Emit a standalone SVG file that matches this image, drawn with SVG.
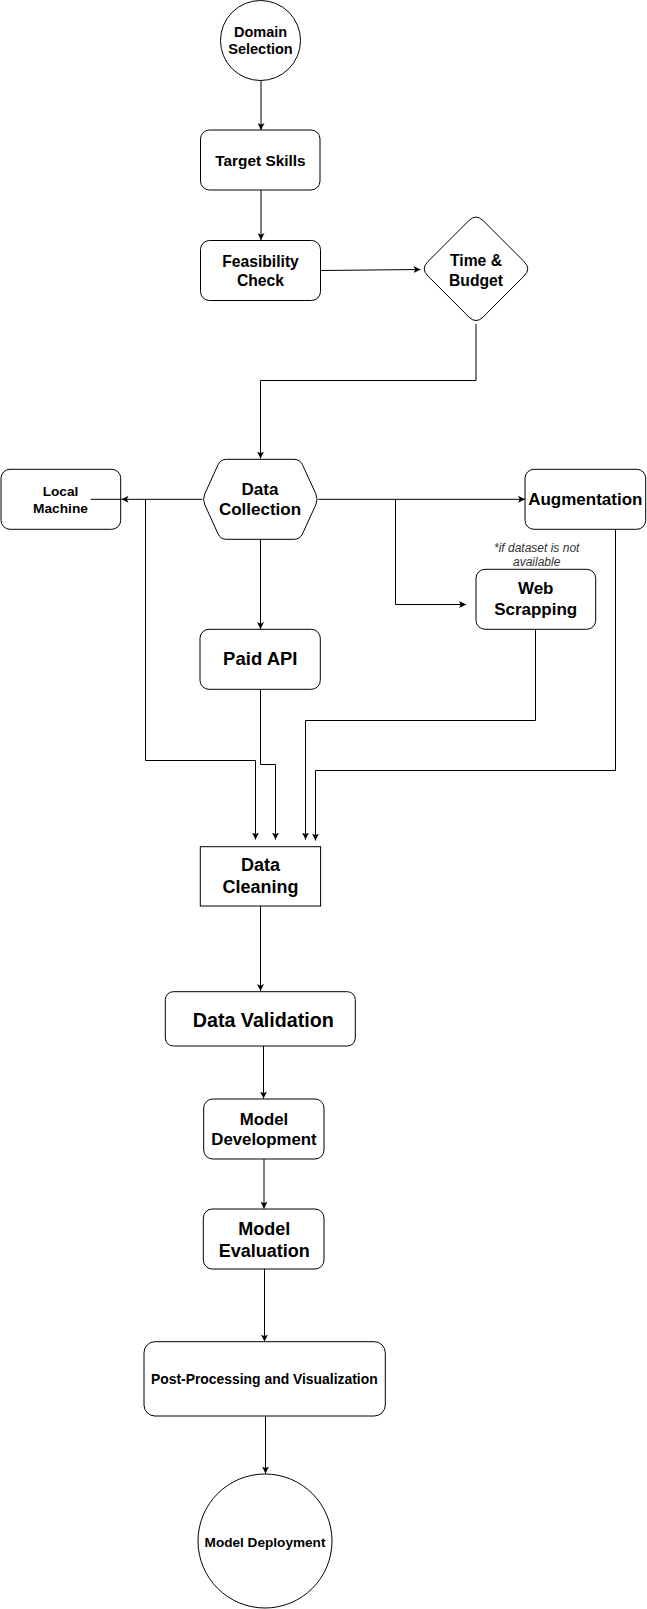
<svg xmlns="http://www.w3.org/2000/svg" width="647" height="1609" viewBox="0 0 647 1609">
<style>
.n{fill:#fff;stroke:#000;stroke-width:1}
.t{font-family:"Liberation Sans",Arial,sans-serif;font-weight:bold;fill:#000;text-anchor:middle}
.e{fill:none;stroke:#000;stroke-width:1}
.note{font-family:"Liberation Sans",Arial,sans-serif;font-style:italic;fill:#333;text-anchor:middle;font-size:12px}
</style>
<defs>
<marker id="a" markerUnits="userSpaceOnUse" viewBox="0 0 7 7" refX="7" refY="3.5" markerWidth="7" markerHeight="7" orient="auto">
<path d="M0,0 L7,3.5 L0,7 L1.75,3.5 Z" fill="#000"/>
</marker>
</defs>
<rect width="647" height="1609" fill="#fff"/>
<g id="connectors">
<path class="e" d="M261,80.5 L261,130" marker-end="url(#a)"/>
<path class="e" d="M261,175 L261,240" marker-end="url(#a)"/>
<path class="e" d="M320.5,270.5 L420.5,269.5" marker-end="url(#a)"/>
<path class="e" d="M476,324 L476,380.5 L260.5,380.5 L260.5,458.5" marker-end="url(#a)"/>
<path class="e" d="M202.3,499.3 L121.5,499.3" marker-end="url(#a)"/>
<path class="e" d="M121.5,499.3 L90.7,499.3"/>
<path class="e" d="M318.3,499.3 L525,499.3" marker-end="url(#a)"/>
<path class="e" d="M395.5,499.3 L395.5,604.5 L466,604.5" marker-end="url(#a)"/>
<path class="e" d="M260.5,539.3 L260.5,629" marker-end="url(#a)"/>
<path class="e" d="M145.5,499.3 L145.5,760.5 L255.5,760.5 L255.5,839.5" marker-end="url(#a)"/>
<path class="e" d="M260.5,689.3 L260.5,764.5 L275.5,764.5 L275.5,839.5" marker-end="url(#a)"/>
<path class="e" d="M535.5,629.3 L535.5,720.5 L305.5,720.5 L305.5,839.5" marker-end="url(#a)"/>
<path class="e" d="M615.5,529.3 L615.5,770.5 L315.5,770.5 L315.5,840.5" marker-end="url(#a)"/>
<path class="e" d="M260.5,906 L260.5,991" marker-end="url(#a)"/>
<path class="e" d="M263.5,1046 L263.5,1098.5" marker-end="url(#a)"/>
<path class="e" d="M264,1159 L264,1208.5" marker-end="url(#a)"/>
<path class="e" d="M264.5,1269 L264.5,1341.5" marker-end="url(#a)"/>
<path class="e" d="M265.5,1416 L265.5,1473.5" marker-end="url(#a)"/>
</g>
<g id="domain-selection">
<circle class="n" cx="260.5" cy="40.5" r="40"/>
<text class="t" font-size="14.5" x="260.5" y="36.5">Domain</text>
<text class="t" font-size="14.5" x="260.5" y="53.9">Selection</text>
</g>
<g id="target-skills">
<rect class="n" x="200.5" y="130" width="119.5" height="60" rx="9"/>
<text class="t" font-size="15.4" x="260.5" y="166">Target Skills</text>
</g>
<g id="feasibility-check">
<rect class="n" x="200.5" y="240.5" width="120" height="60" rx="9"/>
<text class="t" font-size="15.7" x="260.5" y="266.5">Feasibility</text>
<text class="t" font-size="15.7" x="260.5" y="285.5">Check</text>
</g>
<g id="time-budget">
<path class="n" d="M468.9,220.6 Q476,213.5 483.1,220.6 L524.2,261.7 Q531.3,268.8 524.2,275.9 L483.1,317 Q476,324.1 468.9,317 L427.8,275.9 Q420.7,268.8 427.8,261.7 Z"/>
<text class="t" font-size="15.7" x="476" y="265.6">Time &amp;</text>
<text class="t" font-size="15.7" x="476" y="285.6">Budget</text>
</g>
<g id="data-collection">
<path class="n" d="M204.8,493.8 L218,464.8 Q220.5,459.3 226.5,459.3 L294,459.3 Q300,459.3 302.5,464.8 L315.8,493.8 Q318.3,499.3 315.8,504.8 L302.5,533.8 Q300,539.3 294,539.3 L226.5,539.3 Q220.5,539.3 218,533.8 L204.8,504.8 Q202.3,499.3 204.8,493.8 Z"/>
<text class="t" font-size="17" x="260" y="494.7">Data</text>
<text class="t" font-size="17" x="260" y="515.3">Collection</text>
</g>
<g id="local-machine">
<rect class="n" x="1" y="469.3" width="119.7" height="60" rx="9" fill-opacity="0"/>
<text class="t" font-size="13.7" x="60.5" y="496.2">Local</text>
<text class="t" font-size="13.7" x="60.5" y="512.6">Machine</text>
</g>
<g id="augmentation">
<rect class="n" x="525" y="469.3" width="120.7" height="60" rx="9"/>
<text class="t" font-size="17" x="585.3" y="505.3">Augmentation</text>
</g>
<g id="note">
<text class="note" x="536.7" y="551.6">*if dataset is not</text>
<text class="note" x="536.7" y="566">available</text>
</g>
<g id="web-scrapping">
<rect class="n" x="476" y="569.3" width="119.7" height="60" rx="9"/>
<text class="t" font-size="17" x="535.7" y="594.3">Web</text>
<text class="t" font-size="17" x="535.7" y="615.3">Scrapping</text>
</g>
<g id="paid-api">
<rect class="n" x="200" y="629.3" width="120.3" height="60" rx="9"/>
<text class="t" font-size="18.5" x="260.3" y="664.8">Paid API</text>
</g>
<g id="data-cleaning">
<rect class="n" x="200.3" y="846.7" width="120.3" height="59.3"/>
<text class="t" font-size="18" x="260.5" y="871.3">Data</text>
<text class="t" font-size="18" x="260.5" y="893">Cleaning</text>
</g>
<g id="data-validation">
<rect class="n" x="165.3" y="991.7" width="190" height="54.3" rx="8"/>
<text class="t" font-size="19.7" x="263.3" y="1027">Data Validation</text>
</g>
<g id="model-development">
<rect class="n" x="203.7" y="1099" width="120.3" height="60" rx="9"/>
<text class="t" font-size="16.8" x="264" y="1124.6">Model</text>
<text class="t" font-size="16.8" x="264" y="1144.9">Development</text>
</g>
<g id="model-evaluation">
<rect class="n" x="203.3" y="1209" width="120.7" height="60" rx="9"/>
<text class="t" font-size="18" x="264.3" y="1235">Model</text>
<text class="t" font-size="18" x="264.3" y="1257.3">Evaluation</text>
</g>
<g id="post-processing">
<rect class="n" x="144" y="1341.7" width="241.3" height="74.3" rx="11"/>
<text class="t" font-size="13.9" x="264.3" y="1384.2">Post-Processing and Visualization</text>
</g>
<g id="model-deployment">
<circle class="n" cx="265" cy="1541" r="67"/>
<text class="t" font-size="13.6" x="265" y="1547.1">Model Deployment</text>
</g>
</svg>
